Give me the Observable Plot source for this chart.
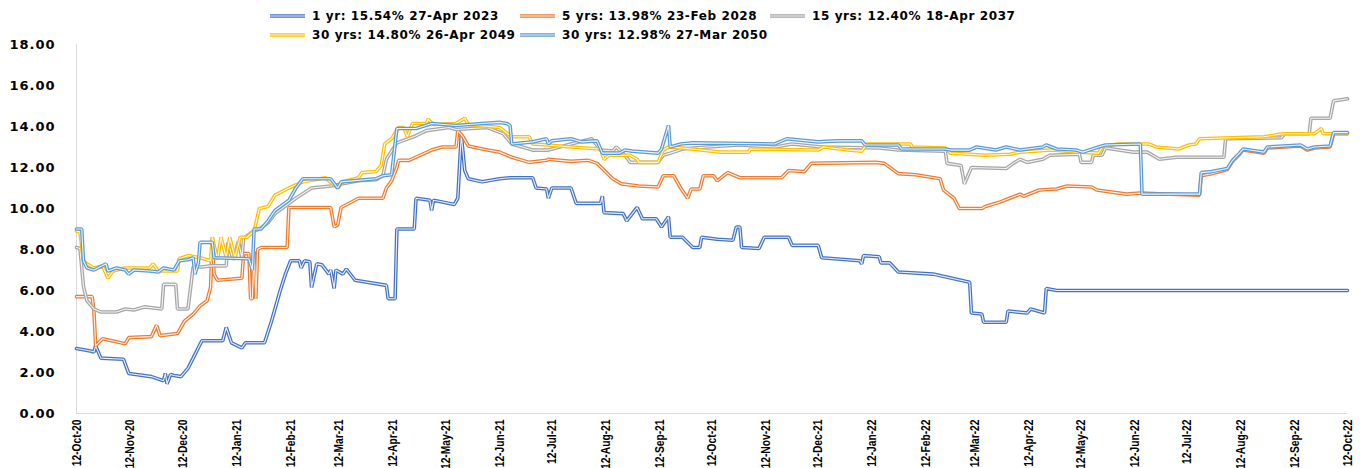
<!DOCTYPE html>
<html><head><meta charset="utf-8">
<script src="https://cdn.jsdelivr.net/npm/d3@7"></script>
<script src="https://cdn.jsdelivr.net/npm/@observablehq/plot@0.6"></script>
<style>
body{margin:0;background:#fff;}
#wrap{position:relative;width:1367px;height:468px;overflow:hidden;background:#fff;}
#legend{position:absolute;left:0;top:0;width:1367px;height:44px;font-family:"DejaVu Sans",sans-serif;font-weight:bold;font-size:12px;letter-spacing:0.6px;color:#000;}
.item{position:absolute;display:flex;align-items:center;white-space:nowrap;height:14px;}
.item svg{margin-right:7px;}
#chart svg g[aria-label="y-axis tick label"] text{letter-spacing:1px;}
</style></head><body>
<div id="wrap"><div id="chart"></div><div id="legend"></div></div>
<script>
const seriesNames = ["1 yr: 15.54% 27-Apr 2023","5 yrs: 13.98% 23-Feb 2028","15 yrs: 12.40% 18-Apr 2037","30 yrs: 14.80% 26-Apr 2049","30 yrs: 12.98% 27-Mar 2050"];
const seriesColors = ["#4472C4","#ED7D31","#A5A5A5","#FFC000","#5B9BD5"];
const yTicks = [0,2,4,6,8,10,12,14,16,18];
const xTicks = ["2020-10-12","2020-11-12","2020-12-12","2021-01-12","2021-02-12","2021-03-12","2021-04-12","2021-05-12","2021-06-12","2021-07-12","2021-08-12","2021-09-12","2021-10-12","2021-11-12","2021-12-12","2022-01-12","2022-02-12","2022-03-12","2022-04-12","2022-05-12","2022-06-12","2022-07-12","2022-08-12","2022-09-12","2022-10-12"];

const yr1 = [["2020-10-12",3.17],["2020-10-20",3.05],["2020-10-22",3.0],["2020-10-23",3.3],["2020-10-26",2.7],["2020-11-08",2.65],["2020-11-11",1.95],["2020-11-24",1.8],["2020-12-01",1.6],["2020-12-02",1.95],["2020-12-03",1.45],["2020-12-05",1.9],["2020-12-07",1.85],["2020-12-11",1.8],["2020-12-15",2.2],["2020-12-18",2.7],["2020-12-23",3.55],["2021-01-04",3.55],["2021-01-06",4.2],["2021-01-09",3.45],["2021-01-15",3.2],["2021-01-17",3.45],["2021-01-28",3.45],["2021-02-01",4.5],["2021-02-06",6.0],["2021-02-09",6.8],["2021-02-12",7.45],["2021-02-17",7.45],["2021-02-18",7.1],["2021-02-20",7.45],["2021-02-23",7.4],["2021-02-24",6.15],["2021-02-27",7.3],["2021-03-02",7.25],["2021-03-06",6.8],["2021-03-07",7.0],["2021-03-09",6.1],["2021-03-10",7.0],["2021-03-14",6.8],["2021-03-16",7.05],["2021-03-21",6.5],["2021-04-08",6.25],["2021-04-09",5.6],["2021-04-13",5.6],["2021-04-14",9.0],["2021-04-24",9.0],["2021-04-25",10.5],["2021-05-03",10.4],["2021-05-04",9.9],["2021-05-05",10.4],["2021-05-17",10.2],["2021-05-19",10.5],["2021-05-21",13.6],["2021-05-23",11.85],["2021-05-25",11.45],["2021-06-02",11.3],["2021-06-12",11.45],["2021-06-18",11.5],["2021-07-01",11.5],["2021-07-03",11.0],["2021-07-09",10.95],["2021-07-10",10.5],["2021-07-12",11.0],["2021-07-23",11.0],["2021-07-26",10.25],["2021-08-09",10.25],["2021-08-10",10.6],["2021-08-11",9.8],["2021-08-22",9.75],["2021-08-24",9.4],["2021-08-30",10.05],["2021-09-02",9.5],["2021-09-10",9.5],["2021-09-13",9.1],["2021-09-17",9.6],["2021-09-18",8.6],["2021-09-25",8.6],["2021-10-01",8.1],["2021-10-05",8.1],["2021-10-06",8.6],["2021-10-15",8.5],["2021-10-24",8.45],["2021-10-26",9.1],["2021-10-28",9.1],["2021-10-29",8.1],["2021-11-08",8.05],["2021-11-11",8.6],["2021-11-25",8.6],["2021-11-27",8.2],["2021-12-12",8.2],["2021-12-14",7.6],["2022-01-05",7.45],["2022-01-06",7.3],["2022-01-07",7.7],["2022-01-16",7.65],["2022-01-17",7.35],["2022-01-22",7.35],["2022-01-27",6.9],["2022-02-16",6.8],["2022-03-09",6.4],["2022-03-10",4.9],["2022-03-16",4.85],["2022-03-17",4.45],["2022-03-30",4.45],["2022-03-31",5.0],["2022-04-11",4.9],["2022-04-13",5.1],["2022-04-21",4.9],["2022-04-22",6.1],["2022-04-28",6.0],["2022-10-12",6.0]];

const yr5 = [["2020-10-12",5.7],["2020-10-21",5.7],["2020-10-22",5.0],["2020-10-23",3.3],["2020-10-27",3.65],["2020-11-09",3.4],["2020-11-11",3.7],["2020-11-24",3.75],["2020-11-27",4.3],["2020-11-29",3.8],["2020-12-09",3.9],["2020-12-13",4.5],["2020-12-18",4.85],["2020-12-22",5.25],["2020-12-26",5.5],["2020-12-28",6.15],["2020-12-29",8.6],["2020-12-30",6.8],["2021-01-01",6.5],["2021-01-15",6.6],["2021-01-16",7.8],["2021-01-19",7.8],["2021-01-20",5.6],["2021-01-21",5.6],["2021-01-22",7.9],["2021-01-23",5.6],["2021-01-24",8.0],["2021-01-26",8.1],["2021-02-10",8.1],["2021-02-11",10.05],["2021-03-07",10.05],["2021-03-09",9.1],["2021-03-11",9.2],["2021-03-13",10.05],["2021-03-23",10.5],["2021-04-06",10.5],["2021-04-08",11.0],["2021-04-11",11.35],["2021-04-14",12.0],["2021-04-15",12.35],["2021-04-21",12.35],["2021-05-04",12.85],["2021-05-10",13.0],["2021-05-18",13.0],["2021-05-19",13.8],["2021-05-22",13.5],["2021-05-25",13.05],["2021-06-05",12.85],["2021-06-12",12.75],["2021-06-19",12.5],["2021-06-29",12.25],["2021-07-09",12.35],["2021-07-10",12.4],["2021-07-23",12.3],["2021-08-02",12.35],["2021-08-07",12.2],["2021-08-16",11.45],["2021-08-21",11.2],["2021-08-31",11.1],["2021-09-11",11.05],["2021-09-14",11.6],["2021-09-20",11.6],["2021-09-24",11.0],["2021-09-28",10.5],["2021-09-30",10.95],["2021-10-05",10.95],["2021-10-07",11.6],["2021-10-13",11.6],["2021-10-15",11.35],["2021-10-21",11.75],["2021-10-28",11.5],["2021-11-21",11.5],["2021-11-25",11.85],["2021-12-04",11.8],["2021-12-08",12.2],["2022-01-14",12.25],["2022-01-19",12.2],["2022-01-27",11.7],["2022-02-06",11.65],["2022-02-20",11.45],["2022-02-22",10.9],["2022-02-28",10.5],["2022-03-03",10.0],["2022-03-16",10.0],["2022-03-18",10.1],["2022-03-26",10.3],["2022-04-01",10.5],["2022-04-07",10.7],["2022-04-09",10.6],["2022-04-18",10.9],["2022-04-28",10.95],["2022-05-04",11.1],["2022-05-18",11.05],["2022-05-21",10.9],["2022-06-07",10.7],["2022-06-15",10.75],["2022-07-19",10.65],["2022-07-20",11.6],["2022-07-26",11.7],["2022-08-04",11.9],["2022-08-07",12.3],["2022-08-11",12.65],["2022-08-13",12.85],["2022-08-25",12.7],["2022-08-27",12.95],["2022-09-15",13.05],["2022-09-19",12.85],["2022-09-23",12.95],["2022-10-02",13.0],["2022-10-04",13.65],["2022-10-12",13.65]];

const yr15 = [["2020-10-12",8.1],["2020-10-14",8.05],["2020-10-16",6.2],["2020-10-18",5.5],["2020-10-22",5.1],["2020-10-26",4.95],["2020-11-04",4.95],["2020-11-09",5.1],["2020-11-14",5.05],["2020-11-20",5.2],["2020-11-30",5.1],["2020-12-01",6.3],["2020-12-08",6.3],["2020-12-09",5.1],["2020-12-15",5.1],["2020-12-18",7.15],["2020-12-23",7.15],["2020-12-28",7.2],["2021-01-06",7.2],["2021-01-07",8.35],["2021-01-10",7.5],["2021-01-13",8.4],["2021-01-15",7.6],["2021-01-16",8.55],["2021-01-20",8.8],["2021-01-22",8.9],["2021-01-25",9.0],["2021-01-30",9.3],["2021-02-03",9.75],["2021-02-15",10.5],["2021-02-24",11.0],["2021-03-07",11.1],["2021-03-23",11.35],["2021-04-02",11.4],["2021-04-06",11.6],["2021-04-08",12.4],["2021-04-14",13.2],["2021-04-25",13.55],["2021-05-01",13.8],["2021-05-14",13.95],["2021-05-18",13.85],["2021-06-05",13.95],["2021-06-14",13.65],["2021-06-19",13.15],["2021-07-01",12.85],["2021-07-10",12.85],["2021-07-23",13.15],["2021-08-04",13.4],["2021-08-09",12.85],["2021-08-16",12.8],["2021-08-18",13.0],["2021-08-23",12.6],["2021-08-26",12.25],["2021-09-11",12.25],["2021-09-14",12.6],["2021-09-20",12.75],["2021-09-25",12.9],["2021-10-09",13.0],["2021-10-28",13.1],["2021-11-17",13.0],["2021-11-27",13.15],["2021-12-14",13.0],["2022-01-16",12.95],["2022-01-27",12.85],["2022-02-23",12.8],["2022-02-24",12.2],["2022-03-04",12.1],["2022-03-06",11.2],["2022-03-10",12.0],["2022-03-30",11.95],["2022-04-03",12.2],["2022-04-07",12.4],["2022-04-11",12.25],["2022-04-20",12.4],["2022-04-24",12.6],["2022-05-11",12.65],["2022-05-12",12.25],["2022-05-18",12.25],["2022-05-19",12.6],["2022-05-24",12.6],["2022-05-26",12.95],["2022-06-11",12.75],["2022-06-19",12.75],["2022-06-26",12.4],["2022-07-06",12.5],["2022-08-02",12.5],["2022-08-03",13.4],["2022-09-04",13.45],["2022-09-06",13.65],["2022-09-20",13.65],["2022-09-21",14.4],["2022-10-02",14.4],["2022-10-04",15.25],["2022-10-12",15.35]];

const yr30a = [["2020-10-12",8.9],["2020-10-14",8.85],["2020-10-16",7.45],["2020-10-18",7.3],["2020-10-22",7.1],["2020-10-27",7.2],["2020-10-30",6.6],["2020-11-02",6.95],["2020-11-09",7.1],["2020-11-23",7.1],["2020-11-25",7.3],["2020-11-28",6.95],["2020-12-09",6.95],["2020-12-10",7.55],["2020-12-15",7.7],["2020-12-22",7.6],["2020-12-28",7.45],["2020-12-29",8.6],["2021-01-01",7.5],["2021-01-03",8.6],["2021-01-06",7.6],["2021-01-08",8.6],["2021-01-11",7.6],["2021-01-14",8.6],["2021-01-18",8.6],["2021-01-22",8.9],["2021-01-25",10.0],["2021-01-30",10.1],["2021-02-03",10.65],["2021-02-11",11.0],["2021-02-19",11.3],["2021-03-04",11.5],["2021-03-11",11.0],["2021-03-14",11.3],["2021-03-23",11.5],["2021-03-25",11.75],["2021-04-02",11.8],["2021-04-05",12.1],["2021-04-07",13.15],["2021-04-11",13.4],["2021-04-15",13.95],["2021-04-18",13.95],["2021-04-20",13.5],["2021-04-23",14.15],["2021-05-01",14.15],["2021-05-02",14.35],["2021-05-05",14.1],["2021-05-18",14.15],["2021-05-23",14.4],["2021-05-25",14.1],["2021-06-12",13.95],["2021-06-19",13.5],["2021-06-29",13.5],["2021-07-01",13.15],["2021-07-10",13.1],["2021-07-23",13.0],["2021-08-09",12.9],["2021-08-11",12.4],["2021-08-14",12.6],["2021-08-26",12.6],["2021-08-30",12.4],["2021-08-31",12.25],["2021-09-11",12.25],["2021-09-14",12.85],["2021-09-17",13.0],["2021-09-25",12.95],["2021-10-17",12.75],["2021-11-02",12.75],["2021-11-03",12.9],["2021-12-12",12.85],["2021-12-15",13.0],["2021-12-29",12.85],["2022-01-06",12.8],["2022-01-09",13.15],["2022-02-03",13.15],["2022-02-04",13.0],["2022-02-23",12.95],["2022-02-26",12.7],["2022-03-18",12.6],["2022-04-01",12.65],["2022-04-07",12.75],["2022-04-25",12.85],["2022-05-11",12.75],["2022-05-22",12.7],["2022-05-24",13.0],["2022-06-02",13.15],["2022-06-20",13.15],["2022-06-24",13.0],["2022-07-07",12.9],["2022-07-13",13.1],["2022-07-17",13.15],["2022-07-19",13.4],["2022-08-25",13.5],["2022-09-05",13.65],["2022-09-23",13.65],["2022-09-27",13.9],["2022-09-28",13.65],["2022-10-12",13.65]];

const yr30b = [["2020-10-12",9.0],["2020-10-15",9.0],["2020-10-16",7.45],["2020-10-18",7.1],["2020-10-22",7.0],["2020-10-29",7.3],["2020-10-30",6.95],["2020-11-04",7.1],["2020-11-09",7.0],["2020-11-11",6.8],["2020-11-14",7.0],["2020-11-23",6.95],["2020-11-28",6.9],["2020-12-01",7.1],["2020-12-07",7.0],["2020-12-10",7.45],["2020-12-15",7.5],["2020-12-18",7.6],["2020-12-19",6.8],["2020-12-21",7.35],["2020-12-22",8.35],["2020-12-29",8.35],["2020-12-30",7.6],["2021-01-19",7.55],["2021-01-21",7.0],["2021-01-22",9.0],["2021-01-26",9.0],["2021-01-30",9.4],["2021-02-03",9.9],["2021-02-11",10.4],["2021-02-15",11.0],["2021-02-19",11.45],["2021-03-07",11.45],["2021-03-11",11.0],["2021-03-13",11.3],["2021-04-02",11.45],["2021-04-06",11.6],["2021-04-11",11.65],["2021-04-14",13.9],["2021-04-25",13.9],["2021-05-04",14.15],["2021-05-18",14.05],["2021-06-02",14.15],["2021-06-12",14.2],["2021-06-16",14.15],["2021-06-18",14.05],["2021-06-19",13.15],["2021-07-01",13.25],["2021-07-09",13.4],["2021-07-10",13.15],["2021-07-12",13.3],["2021-07-23",13.4],["2021-07-29",13.25],["2021-08-07",13.3],["2021-08-10",12.7],["2021-08-20",12.7],["2021-08-23",12.85],["2021-08-27",12.8],["2021-09-11",12.7],["2021-09-13",12.9],["2021-09-17",14.05],["2021-09-18",13.0],["2021-09-24",13.15],["2021-10-01",13.2],["2021-11-17",13.15],["2021-11-24",13.4],["2021-12-06",13.3],["2021-12-12",13.25],["2021-12-23",13.3],["2022-01-06",13.3],["2022-01-08",13.1],["2022-01-27",13.1],["2022-01-29",12.9],["2022-02-23",12.9],["2022-02-26",12.85],["2022-03-09",12.85],["2022-03-13",13.0],["2022-03-24",12.85],["2022-03-30",13.0],["2022-04-07",12.85],["2022-04-20",13.0],["2022-04-22",13.1],["2022-04-28",12.9],["2022-05-09",12.85],["2022-05-13",12.75],["2022-05-22",13.0],["2022-05-26",13.1],["2022-06-15",13.15],["2022-06-16",10.7],["2022-07-19",10.7],["2022-07-20",11.75],["2022-07-26",11.8],["2022-08-04",11.95],["2022-08-07",12.35],["2022-08-11",12.7],["2022-08-13",12.9],["2022-08-17",12.85],["2022-08-25",12.75],["2022-08-27",13.0],["2022-09-15",13.1],["2022-09-19",12.9],["2022-09-23",13.0],["2022-10-02",13.05],["2022-10-04",13.7],["2022-10-12",13.7]];

const seriesPoints = [yr1, yr5, yr15, yr30a, yr30b];

const parse = d3.utcParse("%Y-%m-%d");
const tickDates = xTicks.map(parse);
const rows = seriesPoints.map((pts, i) => pts.map(([d, v]) => ({series: seriesNames[i], date: parse(d), value: v})));

const fontFamily = '"DejaVu Sans", sans-serif';
const marks = [
  Plot.ruleY([0], {stroke: "#d9d9d9", strokeWidth: 1}),
  Plot.ruleX([tickDates[0]], {stroke: "#d9d9d9", strokeWidth: 1}),
  Plot.axisY({ticks: yTicks, tickFormat: d3.format(".2f"), tickSize: 0, tickPadding: 21, fontSize: 13, fontWeight: "bold", fontFamily, label: null}),
  Plot.axisX({ticks: tickDates, tickFormat: d3.utcFormat("%d-%b-%y"), tickRotate: -90, tickSize: 0, tickPadding: 6, fontSize: 12.5, fontWeight: "bold", fontFamily: '"Liberation Sans", Arial, sans-serif', label: null})
];
rows.forEach((data, i) => {
  marks.push(Plot.line(data, {x: "date", y: "value", stroke: seriesColors[i], strokeWidth: 3.6, strokeLinejoin: "miter"}));
  marks.push(Plot.line(data, {x: "date", y: "value", stroke: "#ffffff", strokeWidth: 1.1, strokeOpacity: 0.9, strokeLinejoin: "miter"}));
});

const chart = Plot.plot({
  width: 1367, height: 468,
  marginTop: 44, marginBottom: 55, marginLeft: 76, marginRight: 20,
  style: {fontFamily, background: "#fff", color: "#000"},
  x: {type: "utc", domain: [tickDates[0], tickDates[tickDates.length - 1]]},
  y: {domain: [0, 18]},
  marks
});
document.getElementById("chart").appendChild(chart);

// Condense the rotated x tick labels (narrow bold look)
chart.querySelectorAll('g[aria-label="x-axis tick label"] text').forEach(t => {
  const tr = t.getAttribute("transform") || "";
  t.setAttribute("transform", tr + " scale(0.82,1)");
});

// Legend
const legend = document.getElementById("legend");
const legendPos = [[270, 9], [520, 9], [770, 9], [270, 28], [520, 28]];
seriesNames.forEach((name, i) => {
  const item = document.createElement("div");
  item.className = "item";
  item.style.left = legendPos[i][0] + "px";
  item.style.top = legendPos[i][1] + "px";
  item.innerHTML = `<svg width="35" height="8"><line x1="0" x2="35" y1="4" y2="4" stroke="${seriesColors[i]}" stroke-width="3.6"/><line x1="0" x2="35" y1="4" y2="4" stroke="#fff" stroke-width="1.1" stroke-opacity="0.9"/></svg><span>${name}</span>`;
  legend.appendChild(item);
});
</script>
</body></html>
